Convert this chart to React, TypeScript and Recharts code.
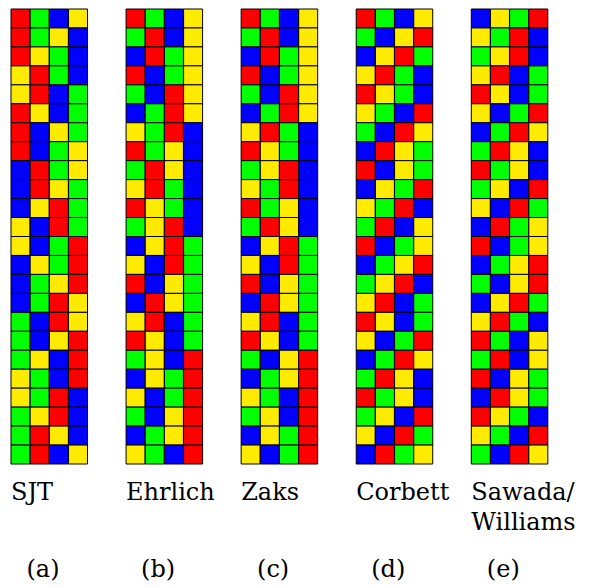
import React from "react";
import { BarChart, Bar, XAxis, YAxis, Cell } from "recharts";

// R = 1, G = 2, B = 3, Y = 4 (colour of each element)
const COLORS: Record<string, string> = {
  R: "#FF0000",
  G: "#00FF00",
  B: "#0000FF",
  Y: "#FFEB00",
};

const ALGO_NAMES = ["SJT", "Ehrlich", "Zaks", "Corbett", "Sawada/\nWilliams"];
const SUB_LABELS = ["(a)", "(b)", "(c)", "(d)", "(e)"];

const SJT = ["RGBY","RGYB","RYGB","YRGB","YRBG","RYBG","RBYG","RBGY","BRGY","BRYG","BYRG","YBRG","YBGR","BYGR","BGYR","BGRY","GBRY","GBYR","GYBR","YGBR","YGRB","GYRB","GRYB","GRBY"];
const EHRLICH = ["RGBY","GRBY","BRGY","RBGY","GBRY","BGRY","YGRB","RGYB","GRYB","YRGB","RYGB","GYRB","BYRG","YBRG","RBYG","BRYG","YRBG","RYBG","GYBR","BYGR","YBGR","GBYR","BGYR","YGBR"];
const ZAKS = ["RGBY","GRBY","BRGY","RBGY","GBRY","BGRY","YRGB","RYGB","GYRB","YGRB","RGYB","GRYB","BYRG","YBRG","RBYG","BRYG","YRBG","RYBG","GBYR","BGYR","YGBR","GYBR","BYGR","YBGR"];
const CORBETT = ["RGBY","GBYR","BYRG","YRGB","RYGB","YGBR","GBRY","BRYG","RBYG","BYGR","YGRB","GRBY","RBGY","BGYR","GYRB","YRBG","RYBG","YBGR","BGRY","GRYB","RGYB","GYBR","YBRG","BRGY"];
const SAWADA = ["BYGR","YGRB","GYRB","YRBG","RYBG","YBGR","BGRY","GRYB","RGYB","GYBR","YBRG","BRGY","RBGY","BGYR","GBYR","BYRG","YRGB","RGBY","GRBY","RBYG","BRYG","RYGB","YGBR","GBRY"];

const ALGOS = [SJT, EHRLICH, ZAKS, CORBETT, SAWADA];
const N_ROWS = 24;
const N_POS = 4;
const GAP_SLOTS = 2;

const FONT = '"DejaVu Serif", serif';
const SLOT_W = (548 - 11) / 28;

type Slot = { slot: string; algo: number; pos: number; [k: string]: any };

const slots: Slot[] = [];
ALGOS.forEach((_, a) => {
  for (let p = 0; p < N_POS + GAP_SLOTS; p++) {
    if (a === ALGOS.length - 1 && p >= N_POS) continue;
    const o: Slot = { slot: `${a}-${p}`, algo: a, pos: p };
    for (let k = 0; k < N_ROWS; k++) o[`r${k}`] = 1;
    slots.push(o);
  }
});

const rowKeys = Array.from({ length: N_ROWS }, (_, k) => `r${k}`);

const textStyle: React.CSSProperties = { fontFamily: FONT, fontSize: 24, fill: "#000" };

const Tick = (props: any) => {
  const { x, y, payload } = props;
  const [aStr, pStr] = String(payload.value).split("-");
  const a = Number(aStr);
  if (Number(pStr) !== 0) return null;
  const left = x - SLOT_W / 2;
  const lines = ALGO_NAMES[a].split("\n");
  return (
    <g>
      {lines.map((ln, i) => (
        <text key={i} x={left} y={y + 36 + i * 30} style={textStyle}>
          {ln}
        </text>
      ))}
      <text x={left + 32} y={y + 113} style={{ ...textStyle, textAnchor: "middle" }}>
        {SUB_LABELS[a]}
      </text>
    </g>
  );
};

export default function App() {
  return (
    <div style={{ position: "absolute", left: 0, top: 0, width: 592, height: 587, background: "#fff" }}>
      <BarChart
        width={592}
        height={587}
        data={slots}
        margin={{ top: 9, left: 11, right: 44, bottom: 0 }}
        barCategoryGap={0}
        barGap={0}
      >
        <XAxis
          dataKey="slot"
          type="category"
          interval={0}
          axisLine={false}
          tickLine={false}
          tickSize={0}
          tickMargin={0}
          height={123}
          tick={<Tick />}
        />
        <YAxis type="number" domain={[0, N_ROWS]} reversed hide />
        {rowKeys.map((key, k) => (
          <Bar key={key} dataKey={key} stackId="perm" isAnimationActive={false}>
            {slots.map((s) => {
              const blank = s.pos >= N_POS;
              const letter = blank ? "" : ALGOS[s.algo][k][s.pos];
              return (
                <Cell
                  key={s.slot}
                  fill={blank ? "none" : COLORS[letter]}
                  stroke={blank ? "none" : "#000"}
                  strokeWidth={1}
                />
              );
            })}
          </Bar>
        ))}
      </BarChart>
    </div>
  );
}
